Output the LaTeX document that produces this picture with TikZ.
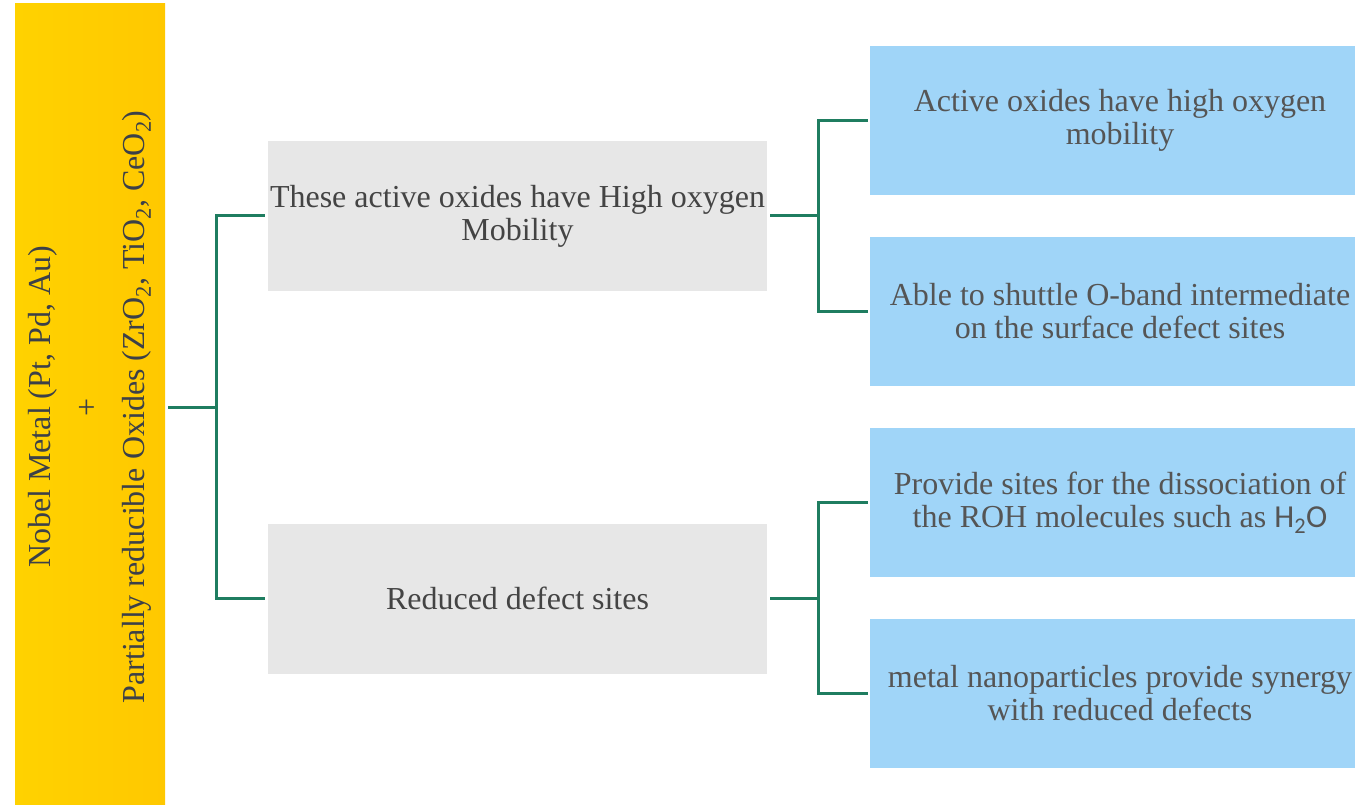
\documentclass[tikz,border=0pt]{standalone}
\usepackage{fontspec}
\setmainfont{Liberation Serif}
\newfontfamily\sansH{Carlito}
\definecolor{barL}{HTML}{FFD200}
\definecolor{barR}{HTML}{FFC800}
\definecolor{grayfill}{HTML}{E7E7E7}
\definecolor{bluefill}{HTML}{A0D5F8}
\definecolor{linkgreen}{HTML}{1F7D60}
\definecolor{bartext}{HTML}{3C4048}
\definecolor{boxtext}{HTML}{555555}
\tikzset{
  boxfont/.style={font=\fontsize{32}{33}\selectfont},
  graybox/.style={boxfont, fill=grayfill, minimum width=499, minimum height=150,
    align=center, text=boxtext!80!black, inner sep=0pt},
  bluebox/.style={boxfont, fill=bluefill, minimum width=500, minimum height=149,
    align=center, text=boxtext, inner sep=0pt},
  link/.style={draw=linkgreen, line width=3pt},
}
\begin{document}
\begin{tikzpicture}[x=1pt, y=-1pt]
\useasboundingbox (0,0) rectangle (1355,805);
\clip (0,0) rectangle (1355,805);

% left column
\node[minimum width=150, minimum height=806, inner sep=0pt,
      left color=barL, right color=barR] (bar) at (90,407) {};
\node[rotate=90, align=center, text=bartext,
      font=\fontsize{32}{47}\selectfont] (bartxt) at (90,407)
  {Nobel Metal (Pt, Pd, Au)\\+\\Partially reducible Oxides (ZrO\textsubscript{2}, TiO\textsubscript{2}, CeO\textsubscript{2})};

% middle column
\node[graybox] (g1) at (517.5,216) {These active oxides have High oxygen\\Mobility};
\node[graybox] (g2) at (517.5,598.5) {Reduced defect sites};

% right column
\node[bluebox] (b1) at (1120,120.5) {Active oxides have high oxygen\\mobility};
\node[bluebox] (b2) at (1120,311.5) {Able to shuttle O-band intermediate\\on the surface defect sites};
\node[bluebox] (b3) at (1120,502.5) {Provide sites for the dissociation of\\the ROH molecules such as {\sansH H\textsubscript{2}O}};
\node[bluebox] (b4) at (1120,693.5) {metal nanoparticles provide synergy\\with reduced defects};

% connectors
\coordinate (j0) at (216,407);
\coordinate (j1) at (818,216);
\coordinate (j2) at (818,598.5);
\draw[link, shorten <=3pt] (bar.east) -- (j0);
\draw[link, shorten <=3pt, shorten >=3pt] (g1.west) -| (j0) |- (g2.west);
\draw[link, shorten <=3pt] (g1.east) -- (j1);
\draw[link, shorten <=2pt, shorten >=2pt] (b1.west) -| (j1) |- (b2.west);
\draw[link, shorten <=3pt] (g2.east) -- (j2);
\draw[link, shorten <=2pt, shorten >=2pt] (b3.west) -| (j2) |- (b4.west);
\end{tikzpicture}
\end{document}
